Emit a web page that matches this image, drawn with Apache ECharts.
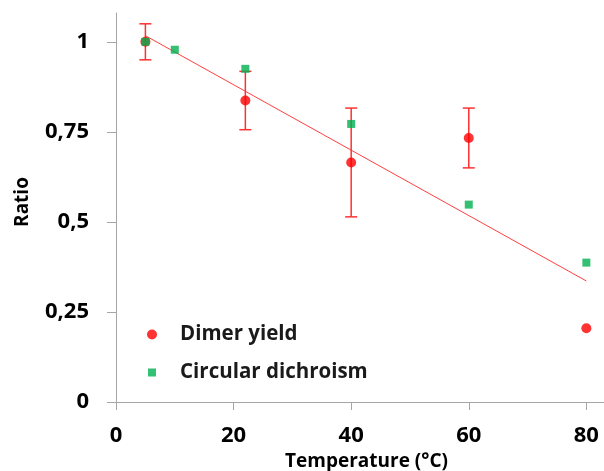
<!DOCTYPE html>
<html>
<head>
<meta charset="utf-8">
<script src="https://cdn.jsdelivr.net/npm/echarts@6/dist/echarts.min.js"></script>
<style>
html,body{margin:0;padding:0;background:#fff;}
#chart{width:604px;height:471px;}
</style>
</head>
<body>
<div id="chart"></div>
<script>
// Data
const xTicks = [0, 20, 40, 60, 80];
const yTicks = [0, 0.25, 0.5, 0.75, 1];
const dimerTemp = [5, 22, 40, 60, 80];
const dimerYield = [1.0, 0.837, 0.665, 0.733, 0.205];
const dimerErr = [0.05, 0.081, 0.151, 0.083, 0];
const cdTemp = [5, 10, 22, 40, 60, 80];
const cdRatio = [1.0, 0.978, 0.925, 0.772, 0.548, 0.387];
const trendTemp = [5, 80];
const trendRatio = [1.017, 0.336];

const RED = '#FF0000';
const GREEN = '#00B050';
const AXIS = '#A6A6A6';
const FONT = '"Open Sans", Lato, sans-serif';

const chart = echarts.init(document.getElementById('chart'), null, {renderer: 'canvas'});

const option = {
  backgroundColor: '#fff',
  animation: false,
  grid: {left: 116, right: 0, top: 13, bottom: 69, outerBoundsMode: 'none'},
  legend: {
    orient: 'vertical',
    left: 142,
    top: 319,
    padding: 5,
    itemWidth: 10,
    itemHeight: 10,
    itemGap: 17,
    textStyle: {fontFamily: FONT, fontSize: 20.5, fontWeight: 'bold', color: '#1a1a1a', padding: [0, 0, 0, 18]},
    data: [
      {name: 'Dimer yield', icon: 'circle'},
      {name: 'Circular dichroism', icon: 'path://M-1,-1M0,0L8,0L8,8L0,8ZM9,9'}
    ]
  },
  xAxis: {
    type: 'value',
    min: 0,
    max: 83,
    interval: 20,
    name: 'Temperature (°C)',
    nameLocation: 'middle',
    nameGap: 47,
    nameTextStyle: {fontFamily: FONT, fontSize: 19, fontWeight: 'bold', color: '#000', padding: [0, 0, 0, 13]},
    axisLine: {show: true, lineStyle: {color: AXIS, width: 1}},
    axisTick: {show: true, length: 8, lineStyle: {color: AXIS}, customValues: xTicks},
    axisLabel: {customValues: xTicks, margin: 23, fontFamily: FONT, fontSize: 22, fontWeight: 'bold', color: '#000'},
    splitLine: {show: false}
  },
  yAxis: {
    type: 'value',
    min: 0,
    max: 1.08,
    interval: 0.25,
    name: 'Ratio',
    nameLocation: 'middle',
    nameRotate: 90,
    nameGap: 84,
    nameTextStyle: {fontFamily: FONT, fontSize: 19, fontWeight: 'bold', color: '#000', padding: [0, 0, 0, 11]},
    axisLine: {show: true, lineStyle: {color: AXIS, width: 1}},
    axisTick: {show: true, length: 9, lineStyle: {color: AXIS}, customValues: yTicks},
    axisLabel: {
      customValues: yTicks, margin: 27, fontFamily: FONT, fontSize: 22, fontWeight: 'bold', color: '#000',
      formatter: v => String(v).replace('.', ',')
    },
    splitLine: {show: false}
  },
  series: [
    {
      name: 'Trend',
      type: 'line',
      data: trendTemp.map((t, i) => [t, trendRatio[i]]),
      symbol: 'none',
      lineStyle: {color: '#FF4040', width: 1},
      z: 1,
      silent: true
    },
    {
      name: 'Error',
      type: 'custom',
      data: dimerTemp.map((t, i) => [t, dimerYield[i], dimerErr[i]]),
      z: 2,
      silent: true,
      renderItem: function (params, api) {
        const x = api.value(0), y = api.value(1), e = api.value(2);
        if (!e) return null;
        const top = api.coord([x, y + e]);
        const bot = api.coord([x, y - e]);
        const hw = 6;
        const style = {stroke: '#FF3030', lineWidth: 1.5};
        return {
          type: 'group',
          children: [
            {type: 'line', shape: {x1: top[0], y1: top[1], x2: bot[0], y2: bot[1]}, style: style},
            {type: 'line', shape: {x1: top[0] - hw, y1: top[1], x2: top[0] + hw, y2: top[1]}, style: style},
            {type: 'line', shape: {x1: bot[0] - hw, y1: bot[1], x2: bot[0] + hw, y2: bot[1]}, style: style}
          ]
        };
      }
    },
    {
      name: 'Dimer yield',
      type: 'scatter',
      data: dimerTemp.map((t, i) => [t, dimerYield[i]]),
      symbol: 'circle',
      symbolSize: 10,
      itemStyle: {color: RED},
      z: 3
    },
    {
      name: 'Circular dichroism',
      type: 'scatter',
      data: cdTemp.map((t, i) => [t, cdRatio[i]]),
      symbol: 'rect',
      symbolSize: 8,
      itemStyle: {color: GREEN},
      z: 4
    }
  ]
};
chart.setOption(option);
</script>
</body>
</html>
